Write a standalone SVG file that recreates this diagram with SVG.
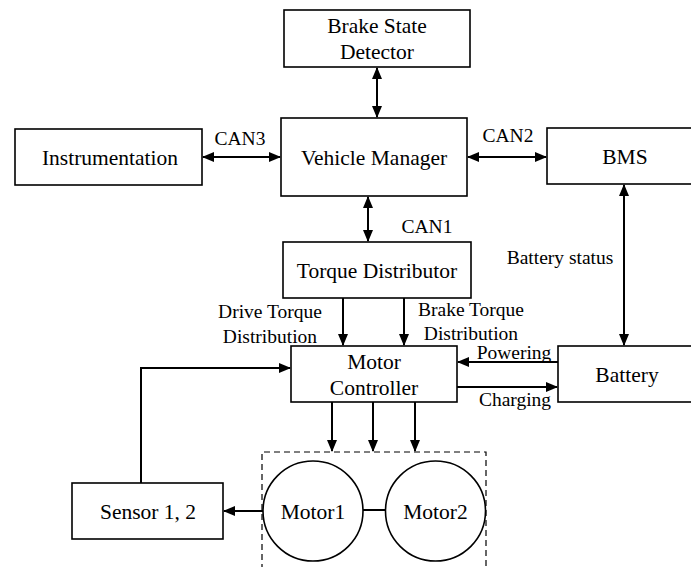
<svg xmlns="http://www.w3.org/2000/svg" width="691" height="567" viewBox="0 0 691 567" font-family="Liberation Serif, Times New Roman, serif">
<style>
  .box { fill: #fff; stroke: #000; stroke-width: 1.6; }
  text { font-family: "Liberation Serif", "Times New Roman", serif; fill: #000; }
  .lbl { font-size: 21.5px; text-anchor: middle; }
  .elbl { font-size: 19.5px; text-anchor: middle; }
  .con { fill: none; stroke: #000; stroke-width: 2; }
  .dash { fill: none; stroke: #000; stroke-width: 1.2; stroke-dasharray: 6 4; }
</style>
<defs>
  <marker id="ah" viewBox="0 0 12 10" refX="11" refY="5" markerWidth="12" markerHeight="10" markerUnits="userSpaceOnUse" orient="auto-start-reverse">
    <path d="M0,0 L12,5 L0,10 z" fill="#000"/>
  </marker>
</defs>
<rect width="691" height="567" fill="#fff"/>

<g id="brake-state-detector">
  <rect class="box" x="284" y="10" width="186" height="57"/>
  <text class="lbl" x="377" y="33" font-family="Liberation Serif">Brake State</text>
  <text class="lbl" x="377" y="59" font-family="Liberation Serif">Detector</text>
</g>
<g id="vehicle-manager">
  <rect class="box" x="281" y="118" width="186" height="78"/>
  <text class="lbl" x="374" y="165" font-family="Liberation Serif">Vehicle Manager</text>
</g>
<g id="instrumentation">
  <rect class="box" x="15" y="129" width="187" height="56"/>
  <text class="lbl" x="110" y="165" font-family="Liberation Serif">Instrumentation</text>
</g>
<g id="bms">
  <rect class="box" x="547" y="128" width="150" height="56"/>
  <text class="lbl" x="625" y="164" font-family="Liberation Serif">BMS</text>
</g>
<g id="torque-distributor">
  <rect class="box" x="283" y="242" width="188" height="56"/>
  <text class="lbl" x="377" y="278" font-family="Liberation Serif">Torque Distributor</text>
</g>
<g id="motor-controller">
  <rect class="box" x="291" y="346" width="166" height="56"/>
  <text class="lbl" x="374" y="369" font-family="Liberation Serif">Motor</text>
  <text class="lbl" x="374" y="395" font-family="Liberation Serif">Controller</text>
</g>
<g id="battery">
  <rect class="box" x="558" y="346" width="140" height="56"/>
  <text class="lbl" x="627" y="382" font-family="Liberation Serif">Battery</text>
</g>
<g id="sensor">
  <rect class="box" x="72" y="483" width="151" height="56"/>
  <text class="lbl" x="148" y="519" font-family="Liberation Serif">Sensor 1, 2</text>
</g>
<g id="motors">
  <path class="dash" d="M262,570 L262,452 L486,452 L486,570"/>
  <circle class="box" cx="313" cy="511" r="50"/>
  <text class="lbl" x="313" y="519" font-family="Liberation Serif">Motor1</text>
  <circle class="box" cx="435.5" cy="511" r="50"/>
  <text class="lbl" x="435.5" y="519" font-family="Liberation Serif">Motor2</text>
</g>

<g id="connectors">
  <line class="con" x1="377" y1="68" x2="377" y2="117" marker-start="url(#ah)" marker-end="url(#ah)"/>
  <line class="con" x1="203" y1="157" x2="280" y2="157" marker-start="url(#ah)" marker-end="url(#ah)"/>
  <line class="con" x1="468" y1="157" x2="546" y2="157" marker-start="url(#ah)" marker-end="url(#ah)"/>
  <line class="con" x1="368" y1="197" x2="368" y2="241" marker-start="url(#ah)" marker-end="url(#ah)"/>
  <line class="con" x1="624" y1="185" x2="624" y2="345" marker-start="url(#ah)" marker-end="url(#ah)"/>
  <line class="con" x1="343" y1="298" x2="343" y2="345" marker-end="url(#ah)"/>
  <line class="con" x1="404" y1="298" x2="404" y2="345" marker-end="url(#ah)"/>
  <line class="con" x1="558" y1="362" x2="458" y2="362" marker-end="url(#ah)"/>
  <line class="con" x1="457" y1="387" x2="557" y2="387" marker-end="url(#ah)"/>
  <line class="con" x1="332" y1="402" x2="332" y2="451" marker-end="url(#ah)"/>
  <line class="con" x1="373" y1="402" x2="373" y2="451" marker-end="url(#ah)"/>
  <line class="con" x1="415" y1="402" x2="415" y2="451" marker-end="url(#ah)"/>
  <line class="con" x1="263" y1="511" x2="224" y2="511" marker-end="url(#ah)"/>
  <polyline class="con" points="141,483 141,368 290,368" marker-end="url(#ah)"/>
  <line class="con" x1="363" y1="510" x2="386" y2="510"/>
  <text class="elbl" x="240" y="145" font-family="Liberation Serif">CAN3</text>
  <text class="elbl" x="508" y="142" font-family="Liberation Serif">CAN2</text>
  <text class="elbl" x="427" y="233" font-family="Liberation Serif">CAN1</text>
  <text class="elbl" x="560" y="264" font-family="Liberation Serif">Battery status</text>
  <text class="elbl" x="270" y="318" font-family="Liberation Serif">Drive Torque</text>
  <text class="elbl" x="270" y="343" font-family="Liberation Serif">Distribution</text>
  <text class="elbl" x="471" y="316" font-family="Liberation Serif">Brake Torque</text>
  <text class="elbl" x="471" y="340" font-family="Liberation Serif">Distribution</text>
  <text class="elbl" x="514" y="359" font-family="Liberation Serif">Powering</text>
  <text class="elbl" x="515" y="406" font-family="Liberation Serif">Charging</text>
</g>
</svg>
